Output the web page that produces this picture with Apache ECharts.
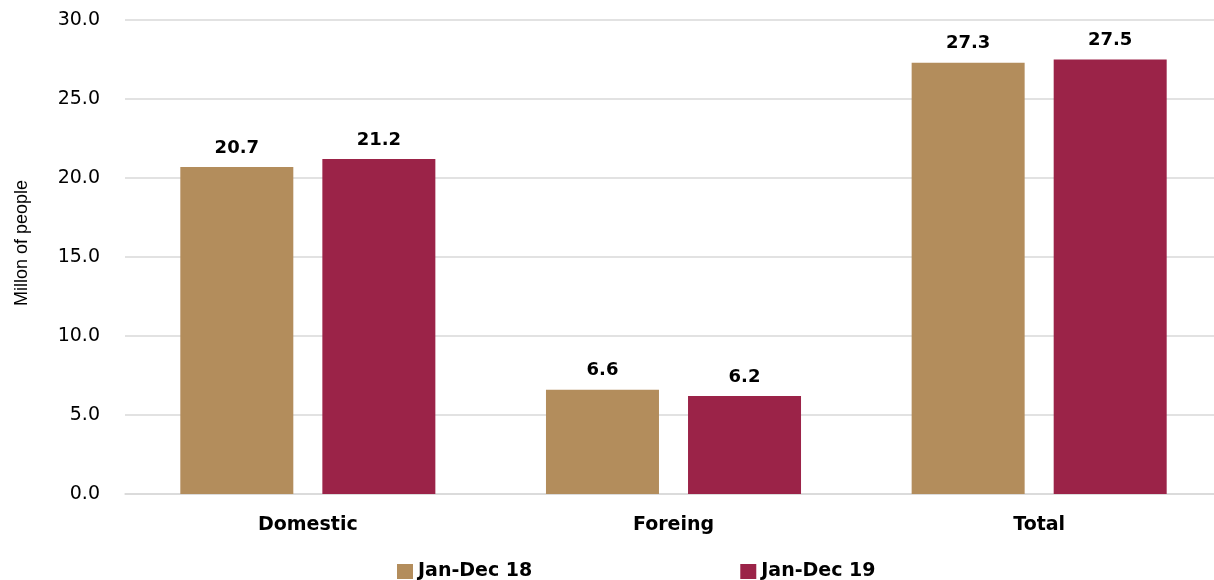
<!DOCTYPE html>
<html>
<head>
<meta charset="utf-8">
<script src="https://cdn.jsdelivr.net/npm/echarts@6/dist/echarts.min.js"></script>
<style>
html,body{margin:0;padding:0;background:#fff;}
#chart{width:1214px;height:580px;}
</style>
</head>
<body>
<div id="chart"></div>
<script>
// data
const categories = ['Domestic', 'Foreing', 'Total'];
const seriesNames = ['Jan-Dec 18', 'Jan-Dec 19'];
const jan18 = [20.7, 6.6, 27.3];
const jan19 = [21.2, 6.2, 27.5];
const yTicks = { min: 0, max: 30, interval: 5 };

const colors = ['#B38D5C', '#9B2348'];
const font = '"DejaVu Sans", Verdana, sans-serif';

const chart = echarts.init(document.getElementById('chart'));

const labelStyle = {
    show: true,
    position: 'top',
    distance: 10,
    fontFamily: font,
    fontSize: 18,
    fontWeight: 'bold',
    color: '#000',
    formatter: p => p.value.toFixed(1)
};

const option = {
    animation: false,
    grid: {
        left: 125,
        top: 20,
        right: -8,
        bottom: 86,
        outerBoundsMode: 'none',
        containLabel: false
    },
    legend: {
        data: seriesNames,
        left: 397,
        top: 562,
        padding: 0,
        itemWidth: 16,
        itemHeight: 15,
        itemGap: 208,
        icon: 'rect',
        textStyle: {
            fontFamily: font,
            fontSize: 19,
            fontWeight: 'bold',
            color: '#000'
        }
    },
    xAxis: {
        type: 'category',
        data: categories,
        axisTick: { show: false },
        axisLine: { lineStyle: { color: '#d9d9d9', width: 1.5 } },
        axisLabel: {
            margin: 22,
            fontFamily: font,
            fontSize: 19,
            fontWeight: 'bold',
            color: '#000'
        }
    },
    yAxis: {
        type: 'value',
        min: yTicks.min,
        max: yTicks.max,
        interval: yTicks.interval,
        name: 'Millon of people',
        nameLocation: 'middle',
        nameGap: 94,
        nameRotate: 90,
        nameTextStyle: {
            fontFamily: '"Liberation Sans", Arial, sans-serif',
            fontSize: 18,
            color: '#000',
            padding: [0, 0, 0, 28]
        },
        axisLine: { show: false },
        axisTick: { show: false },
        axisLabel: {
            margin: 25,
            fontFamily: font,
            fontSize: 19,
            color: '#000',
            formatter: v => v.toFixed(1)
        },
        splitLine: { lineStyle: { color: '#d9d9d9', width: 1.5 } }
    },
    series: [
        {
            name: seriesNames[0],
            type: 'bar',
            data: jan18,
            barWidth: 113,
            barGap: '25.7%',
            itemStyle: { color: colors[0] },
            label: labelStyle
        },
        {
            name: seriesNames[1],
            type: 'bar',
            data: jan19,
            barWidth: 113,
            barGap: '25.7%',
            itemStyle: { color: colors[1] },
            label: labelStyle
        }
    ]
};

chart.setOption(option);
</script>
</body>
</html>
